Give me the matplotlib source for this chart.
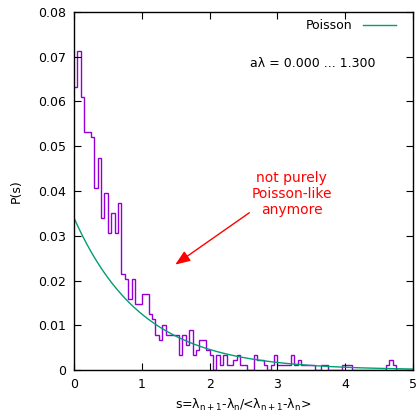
import matplotlib
matplotlib.use("Agg")
import matplotlib.pyplot as plt
import numpy as np

# histogram counts per bin (bin width 0.05, s = 0 .. 5), normalised by N
bin_width = 0.05
n_total = 885
counts = [56, 63, 54, 47, 47, 46, 36, 42, 30, 35,
          27, 31, 27, 33, 19, 18, 14, 18, 13, 13,
          15, 15, 11, 10, 7, 6, 9, 7, 7, 7,
          7, 3, 7, 5, 8, 3, 4, 6, 6, 4,
          3, 0, 3, 1, 3, 1, 1, 2, 3, 1,
          1, 0, 0, 3, 2, 2, 1, 0, 1, 3,
          1, 1, 1, 1, 3, 1, 2, 1, 1, 1,
          1, 0, 0, 1, 1, 0, 0, 0, 0, 1,
          1, 1, 0, 0, 0, 0, 0, 0, 0, 0,
          0, 0, 1, 2, 1, 0, 0, 0, 0, 0]
poisson_amp = 0.034

edges = np.arange(len(counts) + 1) * bin_width
p_s = np.array(counts) / n_total
s = np.linspace(0, 5, 400)

fig = plt.figure(figsize=(4.18, 4.13), dpi=100)
ax = fig.add_axes([0.177, 0.104, 0.811, 0.867])

ax.stairs(p_s, edges, color="#9400d3", lw=1.0, baseline=None)
ax.plot(s, poisson_amp * np.exp(-s), color="#009e73", lw=1.0, label="Poisson")

ax.set_xlim(0, 5)
ax.set_ylim(0, 0.08)
ax.set_xticks(range(6))
yt = np.arange(0, 0.081, 0.01)
ax.set_yticks(yt)
ax.set_yticklabels(["0"] + [f"{v:.2f}" for v in yt[1:]])
ax.tick_params(direction="in", top=True, right=True, length=5, labelsize=9, pad=6)
for sp in ax.spines.values():
    sp.set_linewidth(1.0)

ax.set_ylabel("P(s)", fontsize=9, labelpad=11)
ax.set_xlabel(r"s=λ$_\mathrm{n+1}$-λ$_\mathrm{n}$/<λ$_\mathrm{n+1}$-λ$_\mathrm{n}$>", fontsize=9, labelpad=4)

ax.legend(loc="upper right", bbox_to_anchor=(0.972, 1.0), frameon=False, markerfirst=False,
          fontsize=9, handlelength=2.6, handletextpad=0.9, borderaxespad=0.2)
ax.text(3.52, 0.0686, "aλ = 0.000 ... 1.300", ha="center", va="center", fontsize=9)

ax.text(3.21, 0.0393, "not purely\nPoisson-like\nanymore", ha="center", va="center",
        color="red", fontsize=10, linespacing=1.15)
ax.annotate("", xy=(1.46, 0.0232), xytext=(2.62, 0.0355),
            arrowprops=dict(arrowstyle="-|>,head_length=0.9,head_width=0.35", color="red", lw=1.0))

fig.savefig("out.png", dpi=100, facecolor="white")
